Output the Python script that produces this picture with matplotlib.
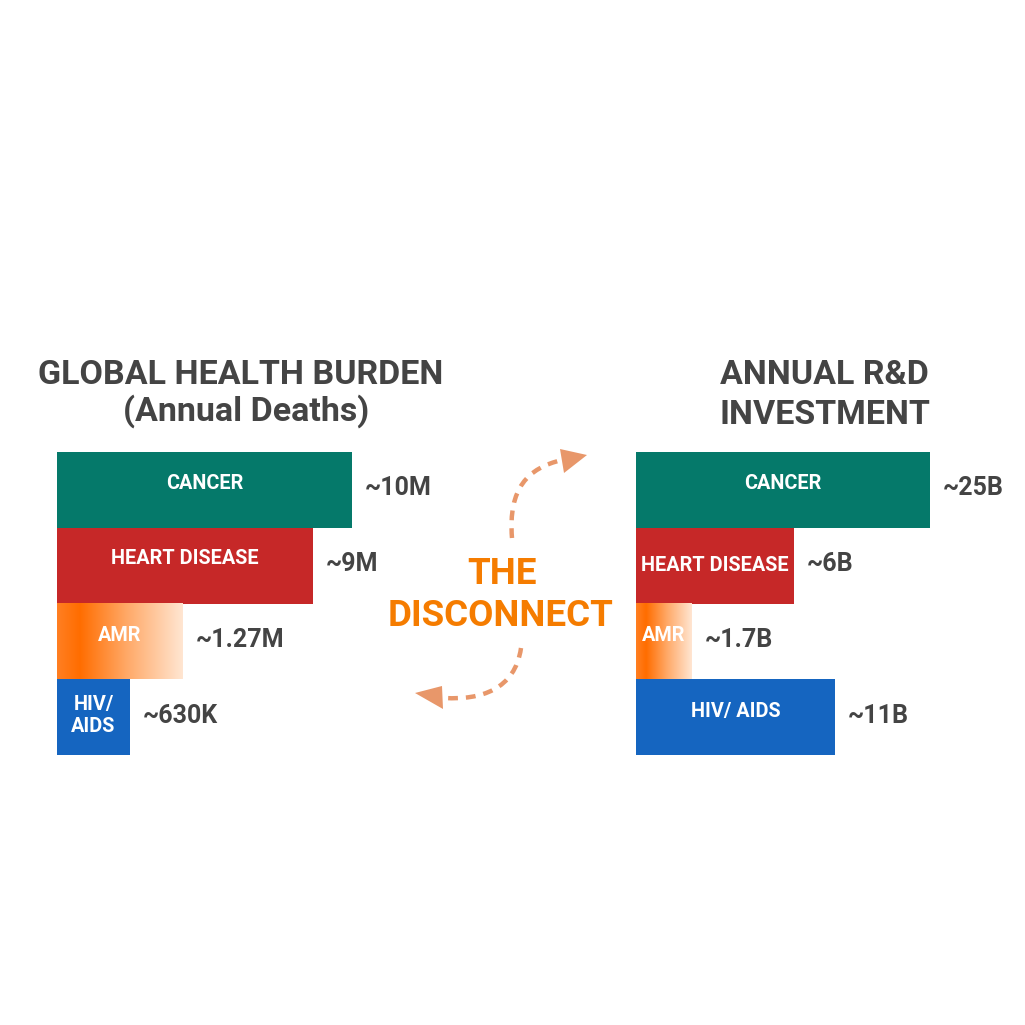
import matplotlib.pyplot as plt
import numpy as np
from matplotlib.path import Path
from matplotlib.patches import PathPatch, Polygon
from matplotlib.colors import LinearSegmentedColormap

# data
categories = ["CANCER", "HEART DISEASE", "AMR", "HIV/\nAIDS"]
categories_right = ["CANCER", "HEART DISEASE", "AMR", "HIV/ AIDS"]
burden_labels = ["~10M", "~9M", "~1.27M", "~630K"]
invest_labels = ["~25B", "~6B", "~1.7B", "~11B"]
# bar lengths as drawn (not to scale, cancer = 100)
burden_len = [100, 86.8, 42.7, 24.7]
invest_len = [100, 53.7, 19.0, 67.7]

colors = ["#05796A", "#C62828", None, "#1565C0"]
dark = "#444444"
orange = "#F57C00"
arrow_col = "#E8976A"

plt.rcParams['font.family'] = ['Roboto', 'DejaVu Sans']

W = 1025
fig = plt.figure(figsize=(10.25, 10.25), dpi=100)
fig.patch.set_facecolor("white")

amr_cmap = LinearSegmentedColormap.from_list(
    "amr", [(0, "#FF7F22"), (0.18, "#FF6D00"), (0.55, "#FFA866"), (1, "#FFE6D2")])


def px_axes(x0, y0, w, h):
    return fig.add_axes([x0 / W, (W - y0 - h) / W, w / W, h / W])


def bar_panel(ax, lengths, names, values, inner_dy):
    y = np.arange(len(lengths))
    for i, (L, c) in enumerate(zip(lengths, colors)):
        if c is None:
            grad = np.linspace(0, 1, 256).reshape(1, -1)
            ax.imshow(grad, cmap=amr_cmap, aspect="auto",
                      extent=(0, L, y[i] + 0.5, y[i] - 0.5), zorder=2)
        else:
            ax.barh(y[i], L, height=1.0, color=c, zorder=2)
        ax.text(L / 2, y[i] + inner_dy[i], names[i], ha="center", va="center",
                color="white", fontsize=14.3, fontweight="bold", zorder=3,
                linespacing=1.25)
        ax.annotate(values[i], (L, y[i] - 0.02), xytext=(13, 0),
                    textcoords="offset pixels", ha="left", va="center",
                    color=dark, fontsize=18, fontweight="bold",
                    annotation_clip=False)
    ax.set_xlim(0, 100)
    ax.set_ylim(3.5, -0.5)
    ax.axis("off")


ax_l = px_axes(57, 452, 295, 303)
bar_panel(ax_l, burden_len, categories, burden_labels, [-0.09, -0.09, -0.08, -0.02])

ax_r = px_axes(636, 452, 294, 303)
bar_panel(ax_r, invest_len, categories_right, invest_labels, [-0.09, 0.0, -0.08, -0.08])

# overlay in pixel coordinates for titles and arrows
ov = fig.add_axes([0, 0, 1, 1], zorder=-1)
ov.set_xlim(0, W)
ov.set_ylim(W, 0)
ov.axis("off")

ov.text(241, 375, "GLOBAL HEALTH BURDEN", ha="center", va="center",
        fontsize=24.5, fontweight="bold", color=dark)
ov.text(246, 411, "(Annual Deaths)", ha="center", va="center",
        fontsize=24.5, fontweight="bold", color=dark)
ov.text(824, 375, "ANNUAL R&D", ha="center", va="center",
        fontsize=24.5, fontweight="bold", color=dark)
ov.text(825, 415, "INVESTMENT", ha="center", va="center",
        fontsize=24.5, fontweight="bold", color=dark)

ov.text(502, 574, "THE", ha="center", va="center",
        fontsize=26.5, fontweight="bold", color=orange)
ov.text(501, 616, "DISCONNECT", ha="center", va="center",
        fontsize=26.5, fontweight="bold", color=orange)

# dashed curved arrows
curves = [
    [(512, 538), (508, 488), (528, 468), (562, 460)],
    [(521, 648), (515, 690), (480, 700), (445, 698)],
]
heads = [
    [(560, 449), (587, 455), (564, 473)],
    [(415, 693), (442, 686), (443, 709)],
]
for pts, head in zip(curves, heads):
    path = Path(pts, [Path.MOVETO, Path.CURVE4, Path.CURVE4, Path.CURVE4])
    ov.add_patch(PathPatch(path, facecolor="none", edgecolor=arrow_col,
                           lw=3.2, linestyle=(0, (2.2, 1.8))))
    ov.add_patch(Polygon(head, closed=True, color=arrow_col, lw=0))

fig.savefig("out.png", dpi=100, facecolor="white")
